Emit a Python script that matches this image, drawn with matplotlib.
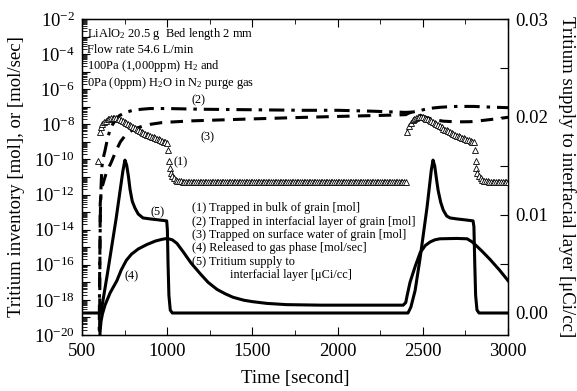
import numpy as np
import matplotlib
matplotlib.use("Agg")
import matplotlib.pyplot as plt
from matplotlib.ticker import FixedLocator, FuncFormatter, MultipleLocator

plt.rcParams['font.family'] = ['Liberation Serif', 'DejaVu Serif']
plt.rcParams['mathtext.fontset'] = 'custom'
plt.rcParams['mathtext.rm'] = 'Liberation Serif'
plt.rcParams['mathtext.it'] = 'Liberation Serif:italic'
plt.rcParams['mathtext.bf'] = 'Liberation Serif:bold'
plt.rcParams['lines.scale_dashes'] = False

# ---------------- data ----------------
# (1) Trapped in bulk of grain [mol]  (log10 values), open triangles
bulk_t_cycle1 = [595, 605, 612, 620, 630, 640, 650, 660, 670, 680, 690, 700, 710, 720, 730,
                 740, 750, 760, 770, 780, 790, 800, 810, 820, 830, 840, 850, 860, 870, 880,
                 890, 900, 910, 920, 930, 940, 950, 960, 970, 980, 990, 1000, 1005, 1010,
                 1015, 1020, 1030, 1040, 1050, 1060, 1070, 1080, 1090, 1100]
bulk_log_cycle1 = [-10.10, -8.44, -8.15, -8.00, -7.88, -7.79, -7.72, -7.67, -7.64, -7.63, -7.63,
                   -7.65, -7.68, -7.72, -7.77, -7.82, -7.87, -7.93, -7.99, -8.05, -8.11, -8.17,
                   -8.23, -8.29, -8.34, -8.39, -8.44, -8.49, -8.54, -8.58, -8.62, -8.66, -8.70,
                   -8.74, -8.78, -8.82, -8.86, -8.90, -8.94, -8.98, -9.02, -9.06, -9.46, -10.10,
                   -10.50, -10.75, -10.95, -11.07, -11.15, -11.20, -11.23, -11.25, -11.27, -11.28]
bulk_plateau_log = -11.28
bulk_t_cycle2 = [2410, 2420, 2430, 2440, 2450, 2460, 2470, 2480, 2490, 2500, 2510, 2520, 2530,
                 2540, 2550, 2560, 2570, 2580, 2590, 2600, 2610, 2620, 2630, 2640, 2650, 2660,
                 2670, 2680, 2690, 2700, 2710, 2720, 2730, 2740, 2750, 2760, 2770, 2780, 2790,
                 2800, 2805, 2810, 2815, 2820, 2830, 2840, 2850, 2860, 2870, 2880, 2890, 2900]
bulk_log_cycle2 = [-8.44, -8.08, -7.90, -7.78, -7.70, -7.65, -7.61, -7.59, -7.59, -7.61, -7.64,
                   -7.68, -7.72, -7.77, -7.82, -7.88, -7.94, -8.00, -8.06, -8.12, -8.18, -8.24,
                   -8.30, -8.35, -8.40, -8.45, -8.50, -8.55, -8.60, -8.64, -8.68, -8.72, -8.76,
                   -8.80, -8.84, -8.88, -8.92, -8.95, -8.98, -9.02, -9.46, -10.10, -10.50, -10.75,
                   -10.95, -11.07, -11.15, -11.20, -11.23, -11.25, -11.27, -11.28]

# (2) Trapped in interfacial layer of grain [mol] (log10), dash-dot
inter_t = [600, 604, 608, 612, 617, 625, 635, 650, 665, 680, 700, 720, 740, 770, 800, 850,
           900, 1000, 1200, 1500, 1800, 2000, 2200, 2400, 2440, 2480, 2520, 2560, 2600, 2650,
           2700, 2800, 2900, 3000]
inter_log = [-21, -16, -13, -11.5, -10.4, -9.9, -9.5, -8.8, -8.3, -8.0, -7.7, -7.5, -7.4,
             -7.28, -7.2, -7.14, -7.1, -7.1, -7.14, -7.17, -7.2, -7.2, -7.25, -7.32, -7.3,
             -7.22, -7.13, -7.07, -7.03, -7.0, -6.98, -6.98, -7.02, -7.05]

# (3) Trapped on surface water of grain [mol] (log10), dashed
surf_t = [603, 605, 607, 612, 620, 632, 645, 670, 700, 725, 760, 800, 855, 900, 970, 1000,
          1150, 1470, 1740, 2000, 2300, 2400, 2420, 2440, 2460, 2500, 2560, 2620, 2700, 2780,
          2850, 2920, 3000]
surf_log = [-21, -16, -12.5, -11.9, -11.5, -11.1, -10.7, -10.2, -9.5, -9.0, -8.55, -8.3,
            -8.1, -8.0, -7.9, -7.88, -7.8, -7.7, -7.62, -7.55, -7.48, -7.45, -7.35, -7.3,
            -7.38, -7.55, -7.72, -7.82, -7.86, -7.85, -7.78, -7.7, -7.6]

# (4) Released to gas phase [mol/sec] (log10), solid
gas_t = [602, 606, 612, 620, 635, 650, 665, 685, 705, 730, 760, 790, 830, 880, 930, 970, 1000,
         1030, 1057, 1093, 1140, 1193, 1240, 1292, 1340, 1386, 1450, 1500, 1585, 1700, 1900,
         2385, 2400, 2407, 2425, 2455, 2485, 2515, 2543, 2570, 2600, 2700, 2760, 2790, 2818,
         2850, 2895, 2950, 3000]
gas_log = [-21, -19.8, -19.2, -18.8, -18.3, -17.95, -17.6, -17.25, -16.9, -16.3, -15.75,
           -15.4, -15.1, -14.85, -14.65, -14.55, -14.5, -14.58, -14.78, -15.25, -15.9, -16.5,
           -17.0, -17.4, -17.65, -17.85, -18.02, -18.1, -18.2, -18.27, -18.3, -18.3, -18.15,
           -17.8, -17.0, -16.1, -15.3, -14.9, -14.7, -14.58, -14.52, -14.5, -14.52, -14.7,
           -14.95, -15.25, -15.7, -16.3, -16.9]

# (5) Tritium supply to interfacial layer [uCi/cc], right axis, solid
supply_t = [500, 611, 650, 700, 740, 752, 762, 772, 782, 795, 811, 830, 858, 900, 950, 997,
            1001, 1005, 1010, 1018, 1030, 2413, 2430, 2455, 2485, 2525, 2550, 2560, 2570, 2580,
            2590, 2605, 2620, 2640, 2660, 2700, 2750, 2795, 2800, 2805, 2810, 2818, 2830, 3000]
supply_v = [0, 0, 0.0041, 0.0096, 0.0145, 0.0156, 0.0151, 0.0140, 0.0126, 0.0114, 0.0107,
            0.0101, 0.0097, 0.0096, 0.0095, 0.0094, 0.0085, 0.005, 0.0018, 0.0003, 0, 0,
            0.0006, 0.0023, 0.0057, 0.0108, 0.0146, 0.0156, 0.0150, 0.0137, 0.0125, 0.0113,
            0.0105, 0.0099, 0.0097, 0.0096, 0.0095, 0.0094, 0.0088, 0.005, 0.0018, 0.0003, 0, 0]

x_ticks = [500, 1000, 1500, 2000, 2500, 3000]
left_exps = list(range(-20, -1))
right_ticks = [0.00, 0.01, 0.02, 0.03]

legend_lines = ["(1) Trapped in bulk of grain [mol]",
                "(2) Trapped in interfacial layer of grain [mol]",
                "(3) Trapped on surface water of grain [mol]",
                "(4) Released to gas phase [mol/sec]",
                "(5) Tritium supply to",
                "interfacial layer [\u03bcCi/cc]"]
info_lines = ["LiAlO$_2$ 20.5 g  Bed length 2 mm",
              "Flow rate 54.6 L/min",
              "100Pa (1,000ppm) H$_2$ and",
              "0Pa (0ppm) H$_2$O in N$_2$ purge gas"]

# ---------------- figure ----------------
W, H = 577, 391
fig = plt.figure(figsize=(W / 100, H / 100), dpi=100)
ax = fig.add_axes([82 / W, 1 - 335 / H, (508 - 82) / W, (335 - 19) / H])
ax2 = ax.twinx()

lw = 2.2
# sampling grids of the flat stretches of series (1)
plateau1_t = np.arange(1110, 2401, 10)
plateau2_t = np.arange(2910, 3001, 10)
bulk_t = np.concatenate([bulk_t_cycle1, plateau1_t, bulk_t_cycle2, plateau2_t])
bulk_log = np.concatenate([bulk_log_cycle1, np.full(len(plateau1_t), bulk_plateau_log),
                           bulk_log_cycle2, np.full(len(plateau2_t), bulk_plateau_log)])

ax.plot(inter_t, 10.0 ** np.array(inter_log), color='black', lw=lw,
        dashes=(11, 5, 2.5, 5), zorder=3)
ax.plot(surf_t, 10.0 ** np.array(surf_log), color='black', lw=lw,
        dashes=(9, 6), zorder=3)
ax.plot(gas_t, 10.0 ** np.array(gas_log), color='black', lw=lw, zorder=3)
ax2.plot(supply_t, supply_v, color='black', lw=lw, zorder=3)
ax.plot(bulk_t, 10.0 ** bulk_log, linestyle='none', marker='^', ms=4.8,
        mfc='white', mec='black', mew=0.6, zorder=5)

ax.set_yscale('log')
ax.set_xlim(500, 3000)
ax.set_ylim(1e-20, 1e-2)
ax2.set_ylim(-0.002245, 0.03)

ax.xaxis.set_major_locator(FixedLocator(x_ticks))
ax.xaxis.set_minor_locator(MultipleLocator(250))
ax.yaxis.set_major_locator(FixedLocator([10.0 ** e for e in left_exps]))
minor_pos = [m * 10.0 ** e for e in left_exps[:-1] for m in range(2, 10)]
ax.yaxis.set_minor_locator(FixedLocator(minor_pos))


def left_fmt(v, pos):
    e = int(round(np.log10(v)))
    if e % 2 == 0:
        return r'$\mathdefault{10^{%d}}$' % e
    return ''


ax.yaxis.set_major_formatter(FuncFormatter(left_fmt))
ax.yaxis.set_minor_formatter(FuncFormatter(lambda v, p: ''))
ax2.yaxis.set_major_locator(FixedLocator(right_ticks))
ax2.yaxis.set_minor_locator(MultipleLocator(0.005))
ax2.yaxis.set_major_formatter(FuncFormatter(lambda v, p: '%.2f' % v))

ax.tick_params(which='both', direction='in', top=True, right=False, labelsize=13.5)
ax.tick_params(which='major', length=6, width=0.8)
ax.tick_params(which='minor', length=3.5, width=0.6)
ax.tick_params(axis='y', pad=5)
ax.tick_params(axis='x', pad=6)
ax2.tick_params(which='both', direction='in', labelsize=13.5, pad=5)
ax2.tick_params(which='major', length=6, width=0.8)
ax2.tick_params(which='minor', length=6, width=0.8)

ax.set_xlabel('Time [second]', fontsize=13.5, labelpad=7)
ax.set_ylabel('Tritium inventory [mol], or [mol/sec]', fontsize=13.5)
ax.yaxis.set_label_coords((25 - 82) / 426, 0.5)
ax2.set_ylabel('Tritium supply to interfacial layer [\u03bcCi/cc]', fontsize=13.5,
               rotation=270, labelpad=20)

for sp in ax.spines.values():
    sp.set_linewidth(1.0)


def fx(px):
    return px / W


def fy(py):
    return 1 - py / H


# info block
info_base = [37, 53, 69, 86]
for s, yb in zip(info_lines, info_base):
    fig.text(fx(87), fy(yb), s, fontsize=9, va='baseline', ha='left')

# legend text
leg_y = [208, 222, 235, 248, 262, 275]
leg_x = [192, 192, 192, 192, 192, 230]
for s, xx, yy in zip(legend_lines, leg_x, leg_y):
    fig.text(fx(xx), fy(yy), s, fontsize=8.8, va='center', ha='left')

# curve labels
for s, xx, yy in [("(1)", 181, 162), ("(2)", 199, 100), ("(3)", 207, 137),
                  ("(4)", 132, 276), ("(5)", 158, 212)]:
    fig.text(fx(xx), fy(yy), s, fontsize=8.8, va='center', ha='center')

fig.savefig('out.png', dpi=100)
